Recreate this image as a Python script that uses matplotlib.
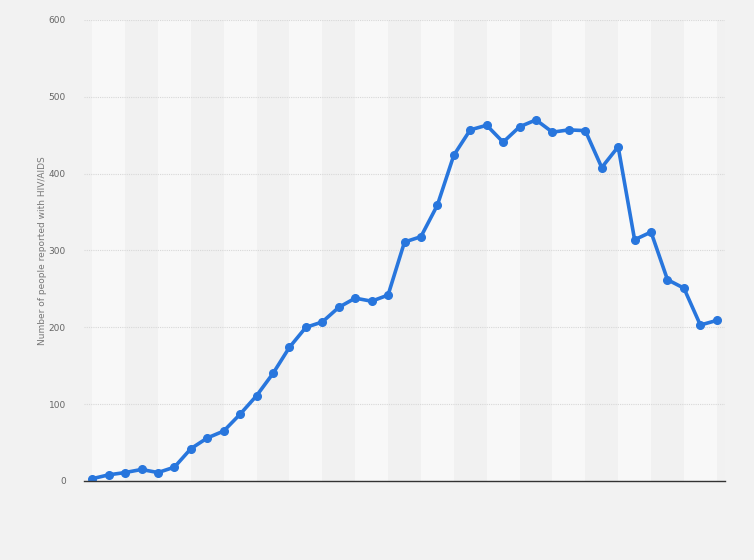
import numpy as np
import matplotlib.pyplot as plt

# Values (39 yearly points, no x labels shown)
cases = [3, 8, 11, 15, 11, 18, 42, 56, 65, 87, 111, 140, 174, 200, 207, 226,
         238, 234, 242, 311, 318, 359, 424, 457, 463, 441, 461, 470, 454, 457,
         456, 408, 435, 314, 324, 262, 251, 203, 209]
y_ticks = [0, 100, 200, 300, 400, 500, 600]
y_label = 'Number of people reported with HIV/AIDS'

x = np.arange(len(cases))

fig = plt.figure(figsize=(7.54, 5.6), dpi=100)
fig.patch.set_facecolor('#f2f2f2')
ax = fig.add_axes([84 / 754, 1 - 481 / 560, (725 - 84) / 754, (481 - 20) / 560])
ax.set_facecolor('#f2f2f2')

# alternating column bands, two points wide
for i, start in enumerate(range(0, len(cases), 2)):
    color = '#f8f8f8' if i % 2 == 0 else '#f1f1f1'
    ax.axvspan(start, min(start + 2, len(cases) - 0.5), color=color, lw=0, zorder=0)

ax.plot(x, cases, color='#2876dd', lw=2.6, marker='o', markersize=5.5,
        solid_joinstyle='round', zorder=3)

ax.set_xlim(-0.5, len(cases) - 0.5)
ax.set_ylim(0, 600)
ax.set_yticks(y_ticks)
ax.set_xticks([])
ax.yaxis.grid(True, color='#d8d8d8', linestyle=(0, (1, 1)), lw=0.8, zorder=1)
ax.tick_params(axis='y', length=0, pad=13, labelsize=6.5, labelcolor='#666666')
for side in ['top', 'right', 'left']:
    ax.spines[side].set_visible(False)
ax.spines['bottom'].set_color('#333333')
ax.spines['bottom'].set_linewidth(1.0)
ax.spines['bottom'].set_zorder(4)

ax.set_ylabel(y_label, fontsize=6.5, color='#777777', labelpad=1)

fig.savefig('out.png', dpi=100, facecolor=fig.get_facecolor())
